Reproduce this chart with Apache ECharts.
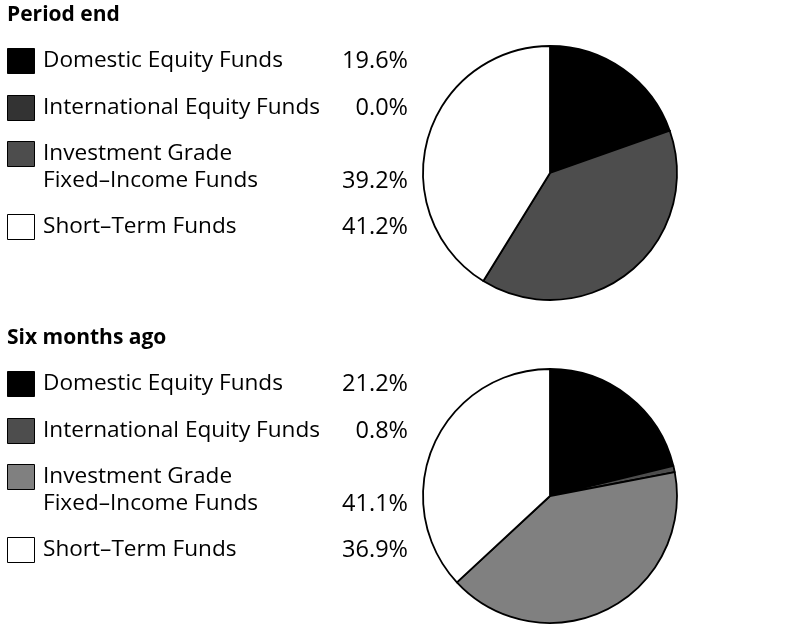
<!DOCTYPE html>
<html><head><meta charset="utf-8">
<script src="https://cdn.jsdelivr.net/npm/echarts@6/dist/echarts.min.js"></script>
<style>html,body{margin:0;padding:0;background:#fff}#c{width:803px;height:641px}</style>
</head><body><div id="c"></div>
<script>
var titles = ['Period end', 'Six months ago'];
var categories = ['Domestic Equity Funds', 'International Equity Funds', 'Investment Grade\nFixed\u2013Income Funds', 'Short\u2013Term Funds'];
var periodEnd = [19.6, 0.0, 39.2, 41.2];
var sixMonthsAgo = [21.2, 0.8, 41.1, 36.9];
var colorsPeriodEnd = ['#000000', '#333333', '#4d4d4d', '#ffffff'];
var colorsSixMonths = ['#000000', '#4d4d4d', '#808080', '#ffffff'];

var FONT = '"Open Sans", sans-serif';
var panels = [
  {title: titles[0], values: periodEnd, colors: colorsPeriodEnd, y0: 0},
  {title: titles[1], values: sixMonthsAgo, colors: colorsSixMonths, y0: 323}
];
var rowOffsets = [61, 108, 154, 227];
var graphics = [];
var series = [];
panels.forEach(function(p){
  graphics.push({type:'text', x: 7, y: p.y0 + 15, style:{text:p.title, font:'bold 21px ' + FONT, fill:'#000', verticalAlign:'middle'}});
  categories.forEach(function(cat, i){
    var cy = p.y0 + rowOffsets[i];
    graphics.push({type:'rect', shape:{x:7.5, y:cy-12.5, width:27, height:25}, style:{fill:p.colors[i], stroke:'#000', lineWidth:1}});
    var lines = cat.split('\n');
    lines.forEach(function(l, k){
      graphics.push({type:'text', x:43, y:cy + k*27, style:{text:l, font:'22.6px ' + FONT, fill:'#000', verticalAlign:'middle'}});
    });
    graphics.push({type:'text', x:408, y:cy + (lines.length-1)*27, style:{text:p.values[i].toFixed(1)+'%', font:'23.5px ' + FONT, fill:'#000', align:'right', verticalAlign:'middle'}});
  });
  series.push({
    type:'pie', center:[550, p.y0 + 173], radius:[0, 127], startAngle:90, clockwise:true,
    label:{show:false}, labelLine:{show:false}, silent:true, animation:false,
    itemStyle:{borderColor:'#000', borderWidth:1.8},
    data: categories.map(function(c, i){ return {name:c, value:p.values[i], itemStyle:{color:p.colors[i]}}; })
  });
});
var chart = echarts.init(document.getElementById('c'));
chart.setOption({animation:false, backgroundColor:'#fff', series:series, graphic:graphics});
</script></body></html>
